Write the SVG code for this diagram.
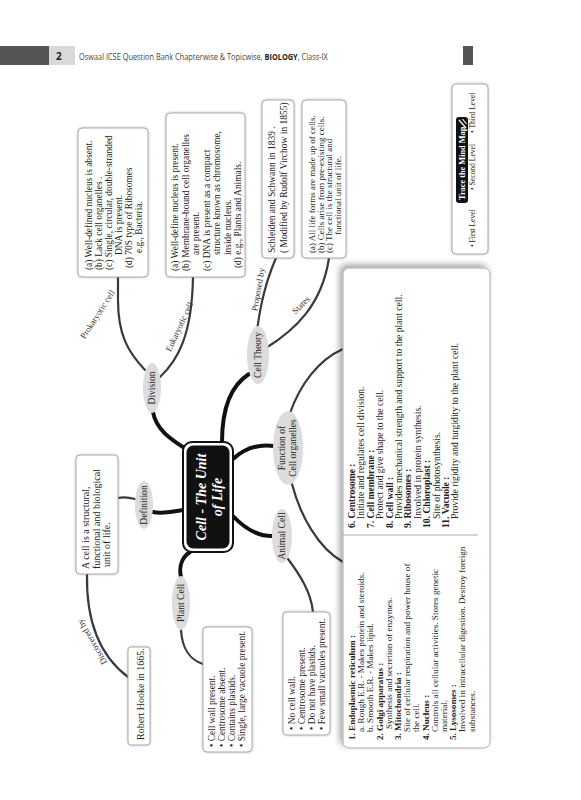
<svg xmlns="http://www.w3.org/2000/svg" width="581" height="800" viewBox="0 0 581 800">
<defs>
<style>
.tx{font-family:"Liberation Serif","DejaVu Serif",serif;fill:#222;}
.f10{font-size:10px}
.f95{font-size:9.5px}
.f9{font-size:9.4px}
.f96{font-size:9.6px}
.f91{font-size:9.1px}
.f88{font-size:9px}
.f7{font-size:7.6px}
.b{font-weight:bold}
.box{fill:#fff;stroke:#aaa;stroke-width:1;}
.el{fill:#dcdcdc;}
.elt{font-family:"Liberation Serif","DejaVu Serif",serif;font-size:9.6px;fill:#222;text-anchor:middle}
.c1{fill:none;stroke:#111;stroke-width:4;stroke-linecap:round}
.c2{fill:none;stroke:#3a3a3a;stroke-width:2.2;stroke-linecap:round}
.lbl{font-family:"Liberation Serif","DejaVu Serif",serif;font-size:8.8px;fill:#333;text-anchor:middle}
.hd{font-family:"Open Sans",sans-serif;font-size:9px;fill:#444}
</style>
<filter id="sh" x="-10%" y="-20%" width="120%" height="140%"><feDropShadow dx="0" dy="0" stdDeviation="1.2" flood-color="#000" flood-opacity="0.3"/></filter>
<filter id="sh2" x="-10%" y="-20%" width="120%" height="140%"><feDropShadow dx="3" dy="-3" stdDeviation="3" flood-color="#000" flood-opacity="0.35"/></filter>
</defs>
<rect x="0" y="0" width="581" height="800" fill="#fff"/>

<g id="header">
<rect x="0" y="46" width="49" height="19" fill="#555"/>
<rect x="49" y="46" width="26" height="19" fill="#d9d9d9"/>
<text x="56" y="60" font-family="'Open Sans',sans-serif" font-weight="bold" font-size="10" fill="#222">2</text>
<text class="hd" transform="translate(79,59.5) scale(0.82,1)">Oswaal ICSE Question Bank Chapterwise &amp; Topicwise, <tspan font-weight="bold" fill="#222">BIOLOGY</tspan>, Class-IX</text>
<rect x="463" y="46" width="10" height="19" fill="#555"/>
</g>

<g id="connectors">
<path class="c1" d="M186,449 C172,440 156,430 153,412"/>
<path class="c1" d="M222,442 C222,410 230,386 249,374"/>
<path class="c1" d="M233,459 C245,448 260,444 274,446"/>
<path class="c1" d="M233,516 C246,530 259,536 272,536"/>
<path class="c1" d="M183,510 C172,512 162,514 153,512"/>
<path class="c1" d="M190,552 C181,558 179,568 181,577"/>
<path class="c2" d="M135,499 C128,497 122,497 118,498"/>
<path class="c2" d="M87,574 C86,622 100,656 128,677"/>
<path class="c2" d="M181,630 C182,648 190,660 203,664"/>
<path class="c2" d="M288,559 C300,575 311,592 313,612"/>
<path class="c2" d="M290,413 C300,385 318,360 343,349"/>
<path class="c2" d="M292,484 C300,515 318,548 343,562"/>
<path class="c2" d="M145,370 C128,352 118,335 118,300 L118,277"/>
<path class="c2" d="M160,377 C178,360 192,335 193,277"/>
<path class="c2" d="M255,347 C258,320 262,290 276,258"/>
<path class="c2" d="M266,348 C295,330 322,305 329,258"/>
<text class="lbl" transform="translate(100,316) rotate(-57)">Prokaryotic cell</text>
<text class="lbl" transform="translate(182,328) rotate(-65)">Eukaryotic cell</text>
<text class="lbl" transform="translate(261,290) rotate(-80)">Proposed by</text>
<text class="lbl" transform="translate(303,307) rotate(-45)">States</text>
<text class="lbl" transform="translate(94.6,640.5) rotate(-120)">Discovered by</text>
<path d="M486,229 Q477,220 484,208" fill="none" stroke="#111" stroke-width="2.5" stroke-linecap="round"/>
<path d="M485,180 Q477,170 484,160" fill="none" stroke="#333" stroke-width="1.6" stroke-linecap="round"/>
<path d="M485,120 Q477,110 484,100" fill="none" stroke="#555" stroke-width="1" stroke-linecap="round"/>
</g>

<g transform="translate(0,800) rotate(-90)">
<g id="center">
<rect x="248" y="183" width="110" height="50" rx="9" fill="#fff" stroke="#111" stroke-width="2"/>
<rect x="251.5" y="186.5" width="103" height="43" rx="7" fill="#111"/>
<text x="303" y="206" text-anchor="middle" font-family="'Liberation Serif',serif" font-weight="bold" font-style="italic" font-size="14" fill="#fff">Cell - The Unit</text>
<text x="303" y="222" text-anchor="middle" font-family="'Liberation Serif',serif" font-weight="bold" font-style="italic" font-size="14" fill="#fff">of Life</text>
</g>

<g id="division"><ellipse class="el" cx="412" cy="152" rx="25" ry="9"/><text class="elt" x="412" y="155.3">Division</text></g>
<g id="celltheory"><ellipse class="el" cx="445" cy="258" rx="29" ry="11"/><text class="elt" x="445" y="261.3">Cell Theory</text></g>
<g id="function"><ellipse class="el" cx="352" cy="288" rx="37" ry="15"/><text class="elt" x="352" y="285">Function of</text><text class="elt" x="352" y="295.5">Cell organelles</text></g>
<g id="animalcell"><ellipse class="el" cx="264" cy="282" rx="27" ry="10"/><text class="elt" x="264" y="285.3">Animal Cell</text></g>
<g id="definition"><ellipse class="el" cx="295" cy="144" rx="24" ry="9"/><text class="elt" x="295" y="147.3">Definition</text></g>
<g id="plantcell"><ellipse class="el" cx="197" cy="181" rx="27" ry="9"/><text class="elt" x="197" y="184.3">Plant Cell</text></g>

<g id="prokaryotic">
<rect class="box" filter="url(#sh)" x="523" y="78" width="149" height="70" rx="4"/>
<text class="tx f9" x="530" y="92">(a) Well-defined nucleus is absent.</text>
<text class="tx f9" x="530" y="102">(b) Lack cell organelles .</text>
<text class="tx f9" x="530" y="112">(c) Single, circular, double-stranded</text>
<text class="tx f9" x="545" y="122">DNA is present.</text>
<text class="tx f9" x="532" y="132">(d) 70S type of Ribosomes</text>
<text class="tx f9" x="547" y="142">e.g., Bacteria.</text>
</g>

<g id="eukaryotic">
<rect class="box" filter="url(#sh)" x="523" y="166" width="164" height="79" rx="4"/>
<text class="tx f9" x="529" y="178">(a) Well-define nucleus is present.</text>
<text class="tx f9" x="529" y="188.5">(b) Membrane-bound cell organelles</text>
<text class="tx f9" x="545" y="199">are present.</text>
<text class="tx f9" x="529" y="209.5">(c) DNA is present as a compact</text>
<text class="tx f9" x="545" y="220">structure known as chromosome,</text>
<text class="tx f9" x="545" y="230.5">inside nucleus.</text>
<text class="tx f9" x="532" y="241">(d) e.g., Plants and Animals.</text>
</g>

<g id="schleiden">
<rect class="box" filter="url(#sh)" x="542" y="262" width="158" height="32" rx="4"/>
<text class="tx f95" x="547" y="275">Schleiden and Schwann in 1839 .</text>
<text class="tx f95" x="547" y="287">( Modified by Rudolf Virchow in 1855)</text>
</g>

<g id="states">
<rect class="box" filter="url(#sh)" x="542" y="302" width="158" height="44" rx="4"/>
<text class="tx f88" x="547" y="315">(a) All life forms are made up of cells.</text>
<text class="tx f88" x="547" y="323.7">(b) Cells arise from pre-existing cells.</text>
<text class="tx f88" x="547" y="332.4">(c) The cell is the structural and</text>
<text class="tx f88" x="565" y="341.1">functional unit of life.</text>
</g>

<g id="legend">
<rect class="box" filter="url(#sh)" x="546" y="452" width="170" height="36" rx="4"/>
<rect x="597" y="456" width="86" height="12" rx="3" fill="#111"/>
<text x="600" y="465" font-family="'Liberation Serif',serif" font-weight="bold" font-size="8.3" fill="#fff">Trace the Mind Map</text>
<path d="M672,466 L680,459 M676,466.5 L681,462.5" stroke="#fff" stroke-width="1.2"/>
<text class="tx f7" x="553" y="474.5">• First Level</text>
<text class="tx f7" x="610" y="474.5">• Second Level</text>
<text class="tx f7" x="667" y="474.5">• Third Level</text>
</g>

<g id="definitionbox">
<rect class="box" filter="url(#sh)" x="226" y="76" width="119" height="42" rx="4"/>
<text class="tx f10" x="231" y="89">A cell is a structural,</text>
<text class="tx f10" x="231" y="99.5">functional and biological</text>
<text class="tx f10" x="233" y="110">unit of life.</text>
</g>

<g id="hooke">
<rect class="box" filter="url(#sh)" x="55" y="128" width="98" height="22" rx="3"/>
<text class="tx f10" x="60" y="143.5">Robert Hooke in 1665.</text>
</g>

<g id="plantbox">
<rect class="box" filter="url(#sh)" x="48" y="203" width="125" height="49" rx="4"/>
<text class="tx f9" x="53" y="215">• Cell wall present.</text>
<text class="tx f9" x="53" y="225">• Centrosome absent.</text>
<text class="tx f9" x="53" y="235">• Contains plastids.</text>
<text class="tx f9" x="53" y="245">• Single, large vacuole present.</text>
</g>

<g id="animalbox">
<rect class="box" filter="url(#sh)" x="65" y="283" width="123" height="47" rx="4"/>
<text class="tx f9" x="70" y="295">• No cell wall.</text>
<text class="tx f9" x="70" y="305">• Centrosome present.</text>
<text class="tx f9" x="70" y="315">• Do not have plastids.</text>
<text class="tx f9" x="70" y="325">• Few small vacuoles present.</text>
</g>

<g id="organelles">
<rect class="box" filter="url(#sh2)" x="52" y="343" width="480" height="147" rx="6"/>
<line x1="265" y1="343" x2="265" y2="478" stroke="#999" stroke-width="0.8"/>
<text class="tx f96 b" x="272" y="355">6. Centrosome :</text>
<text class="tx f96" x="281" y="364.4">Initiate and regulates cell division.</text>
<text class="tx f96 b" x="272" y="373.8">7. Cell membrane :</text>
<text class="tx f96" x="281" y="383.2">Protect and give shape to the cell.</text>
<text class="tx f96 b" x="272" y="392.6">8. Cell wall :</text>
<text class="tx f96" x="281" y="402">Provides mechanical strength and support to the plant cell.</text>
<text class="tx f96 b" x="272" y="411.4">9. Ribosomes :</text>
<text class="tx f96" x="281" y="420.8">Involved in protein synthesis.</text>
<text class="tx f96 b" x="272" y="430.2">10. Chloroplast :</text>
<text class="tx f96" x="281" y="439.6">Site of photosynthesis.</text>
<text class="tx f96 b" x="272" y="449">11. Vacuole :</text>
<text class="tx f96" x="281" y="458.4">Provide rigidity and turgidity to the plant cell.</text>

<text class="tx f91 b" x="60" y="355">1. Endoplasmic reticulum :</text>
<text class="tx f91" x="68" y="364.2">a. Rough E.R. - Makes protein and steroids.</text>
<text class="tx f91" x="68" y="373.4">b. Smooth E.R. - Makes lipid.</text>
<text class="tx f91 b" x="60" y="382.6">2. Golgi apparatus :</text>
<text class="tx f91" x="71" y="391.8">Synthesis and secretion of enzymes.</text>
<text class="tx f91 b" x="60" y="401">3. Mitochondria :</text>
<text class="tx f91" x="68" y="410.2">Site of cellular respiration and power house of</text>
<text class="tx f91" x="68" y="419.4">the cell.</text>
<text class="tx f91 b" x="60" y="428.6">4. Nucleus :</text>
<text class="tx f91" x="68" y="437.8">Controls all cellular activities. Stores genetic</text>
<text class="tx f91" x="68" y="447">material.</text>
<text class="tx f91 b" x="60" y="456.2">5. Lysosomes :</text>
<text class="tx f91" x="68" y="465.4">Involved in intracellular digestion. Destroy foreign</text>
<text class="tx f91" x="68" y="474.6">substances.</text>
</g>
</g>
</svg>
